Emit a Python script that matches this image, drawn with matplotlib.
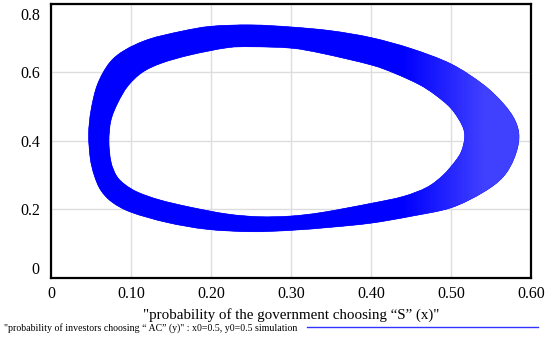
import numpy as np
import matplotlib.pyplot as plt
import matplotlib.transforms as mtrans
from matplotlib.path import Path
from matplotlib.patches import PathPatch
from matplotlib.lines import Line2D
from matplotlib.colors import LinearSegmentedColormap

plt.rcParams['font.family'] = ['Liberation Serif', 'DejaVu Serif']

# outer edge of the band of trajectories (x, y)
outer_x = [0.047, 0.049, 0.054, 0.062, 0.076, 0.100, 0.145, 0.195, 0.25, 0.30,
           0.35, 0.40, 0.45, 0.50, 0.54, 0.565, 0.579, 0.585, 0.58, 0.565,
           0.54, 0.50, 0.45, 0.40, 0.35, 0.30, 0.25, 0.20, 0.162, 0.122,
           0.092, 0.073, 0.058, 0.050]
outer_y = [0.42, 0.35, 0.30, 0.257, 0.222, 0.192, 0.162, 0.142, 0.135, 0.139,
           0.148, 0.160, 0.180, 0.205, 0.250, 0.295, 0.35, 0.41, 0.46, 0.51,
           0.565, 0.625, 0.670, 0.702, 0.722, 0.733, 0.739, 0.735, 0.720, 0.697,
           0.665, 0.628, 0.565, 0.49]

# inner edge of the band
inner_x = [0.0725, 0.075, 0.082, 0.093, 0.109, 0.136, 0.174, 0.22, 0.26, 0.30,
           0.34, 0.40, 0.44, 0.47, 0.49, 0.505, 0.513, 0.517, 0.514, 0.50,
           0.48, 0.46, 0.43, 0.40, 0.34, 0.30, 0.25, 0.22, 0.174, 0.138,
           0.114, 0.096, 0.0835, 0.075]
inner_y = [0.40, 0.34, 0.298, 0.272, 0.250, 0.228, 0.207, 0.187, 0.179, 0.181,
           0.192, 0.218, 0.238, 0.265, 0.30, 0.34, 0.37, 0.41, 0.445, 0.495,
           0.535, 0.565, 0.597, 0.622, 0.655, 0.671, 0.675, 0.672, 0.651, 0.627,
           0.600, 0.560, 0.511, 0.46]

x_ticks = [0, 0.1, 0.2, 0.3, 0.4, 0.5, 0.6]
x_labels = ["0", "0.10", "0.20", "0.30", "0.40", "0.50", "0.60"]
y_ticks = [0, 0.2, 0.4, 0.6, 0.8]
y_labels = ["0", "0.2", "0.4", "0.6", "0.8"]


def ring(xs, ys, ccw):
    # closed smooth outline through the read points (Catmull-Rom drawn as Bezier segments)
    pts = np.column_stack([xs, ys])
    area = 0.5 * np.sum(pts[:, 0] * np.roll(pts[:, 1], -1) - np.roll(pts[:, 0], -1) * pts[:, 1])
    if (area > 0) != ccw:
        pts = pts[::-1]
    n = len(pts)
    verts = [pts[0]]
    codes = [Path.MOVETO]
    for i in range(n):
        p0, p1, p2, p3 = pts[i - 1], pts[i], pts[(i + 1) % n], pts[(i + 2) % n]
        verts += [p1 + (p2 - p0) / 6, p2 - (p3 - p1) / 6, p2]
        codes += [Path.CURVE4] * 3
    return Path(np.array(verts), codes)


fig = plt.figure(figsize=(5.5, 3.41), dpi=100)
ax = fig.add_axes([0.0927, 0.1848, 0.8728, 0.8035])

band = Path.make_compound_path(ring(outer_x, outer_y, True), ring(inner_x, inner_y, False))
patch = PathPatch(band, facecolor='#0000ff', edgecolor='#0000ff', lw=0.4, zorder=3)
ax.add_patch(patch)

# the loops thin out towards the right, so the band looks lighter there
shade = np.clip((np.linspace(0, 0.6, 300) - 0.44) / 0.10, 0, 1)[None, :]
cmap = LinearSegmentedColormap.from_list('band', ['#0000ff', '#4040ff'])
im = ax.imshow(shade, extent=[0, 0.6, 0, 0.8], cmap=cmap, vmin=0, vmax=1,
               aspect='auto', origin='lower', zorder=4, interpolation='bilinear')
im.set_clip_path(patch)

ax.set_xlim(0, 0.6)
ax.set_ylim(0, 0.8)
ax.set_xticks(x_ticks)
ax.set_xticklabels(x_labels)
ax.set_yticks(y_ticks)
ax.set_yticklabels(y_labels)
ax.tick_params(length=0, labelsize=11.5, pad=6)
ax.tick_params(axis='y', pad=8)
ax.grid(True, color='#dddddd', lw=1)
ax.set_axisbelow(True)
for s in ax.spines.values():
    s.set_linewidth(1.6)
    s.set_zorder(5)

# labels at the ends of the y axis sit inside the range
ylab = ax.get_yticklabels()
ylab[0].set_transform(ylab[0].get_transform() + mtrans.ScaledTranslation(0, 10 / 100, fig.dpi_scale_trans))
ylab[-1].set_transform(ylab[-1].get_transform() + mtrans.ScaledTranslation(0, -10 / 100, fig.dpi_scale_trans))

ax.set_xlabel('"probability of the government choosing \u201cS\u201d (x)"', fontsize=10.8, labelpad=4)

fig.text(4 / 550, 1 - 328 / 341, '"probability of investors choosing \u201c AC\u201d (y)" : x0=0.5, y0=0.5 simulation',
         fontsize=7.1, va='center', ha='left')
fig.add_artist(Line2D([307 / 550, 538 / 550], [1 - 327 / 341] * 2, color='#3333ff', lw=1,
                      transform=fig.transFigure))

fig.savefig('out.png', dpi=100)
